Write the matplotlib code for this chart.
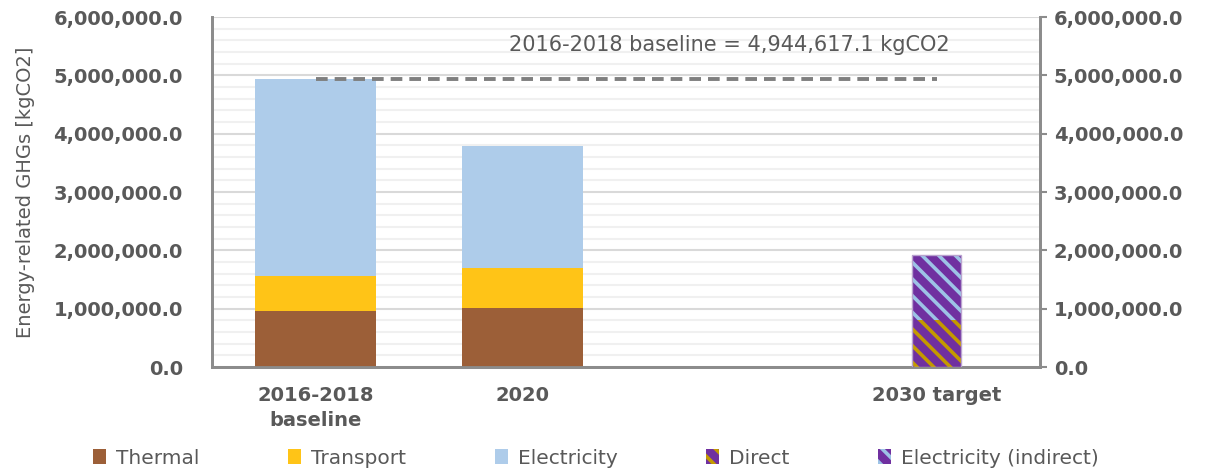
import matplotlib.pyplot as plt
from matplotlib.patches import Patch
from matplotlib.ticker import FuncFormatter, MultipleLocator

# values (kgCO2)
categories = ['2016-2018\nbaseline', '2020', '', '2030 target']
thermal = [960000, 1017000]
transport = [605000, 673000]
electricity = [3379617, 2100000]
direct = [800000]
indirect = [1120000]
baseline = 4944617.1

c_thermal = '#9C5F38'
c_transport = '#FFC417'
c_elec = '#AECCEA'
c_purple = '#7030A0'
c_gold = '#C49A00'
c_blue = '#9DC3E6'
grey_txt = '#595959'

plt.rcParams['font.family'] = ['DejaVu Sans']
plt.rcParams['hatch.linewidth'] = 2.6

fig = plt.figure(figsize=(12.05, 4.73), dpi=100)
ax = fig.add_axes([212/1205, 1 - 367/473, 828/1205, 350/473])
ax2 = ax.twinx()

x_main = [0, 1]
w = 0.585
ax.bar(x_main, thermal, w, color=c_thermal, zorder=3)
ax.bar(x_main, transport, w, bottom=thermal, color=c_transport, zorder=3)
bot2 = [a + b for a, b in zip(thermal, transport)]
ax.bar(x_main, electricity, w, bottom=bot2, color=c_elec, zorder=3)

# 2030 target on secondary axis, narrower and hatched
w2 = 0.232
ax2.bar([3], direct, w2, color=c_purple, edgecolor=c_gold, hatch='\\\\', linewidth=0, zorder=3)
ax2.bar([3], indirect, w2, bottom=direct, color=c_purple, edgecolor=c_blue, hatch='\\\\', linewidth=0, zorder=3)
ax2.bar([3], [direct[0] + indirect[0]], w2, fill=False, edgecolor='#B9A3CF', linewidth=1, zorder=4)

# baseline dashed line + label
ax.plot([0, 3], [baseline, baseline], color='#7F7F7F', lw=2.8, ls=(0, (3, 1.8)), zorder=4)
ax.text(2, 5520000, '2016-2018 baseline = {:,.1f} kgCO2'.format(baseline),
        ha='center', va='center', fontsize=15, color=grey_txt, zorder=5)

for a in (ax, ax2):
    a.set_ylim(0, 6000000)
    a.yaxis.set_major_locator(MultipleLocator(1000000))
    a.yaxis.set_major_formatter(FuncFormatter(lambda v, p: '{:,.1f}'.format(v)))
ax.set_xlim(-0.5, 3.5)
ax.yaxis.set_minor_locator(MultipleLocator(200000))
ax.grid(axis='y', which='major', color='#D9D9D9', lw=1.5, zorder=0)
ax.grid(axis='y', which='minor', color='#F0F0F0', lw=1.5, zorder=0)
ax.set_axisbelow(True)

ax.set_xticks(range(len(categories)))
ax.set_xticklabels(categories, fontsize=14, fontweight='bold', color=grey_txt, linespacing=1.4)
ax.tick_params(axis='x', length=0, pad=14)
ax.tick_params(axis='y', which='both', length=0, pad=21, labelsize=14, labelcolor=grey_txt)
ax2.tick_params(axis='y', length=5, width=1.5, color='#8C8C8C', pad=5, labelsize=14, labelcolor=grey_txt, direction='out')
for lab in ax.get_yticklabels() + ax2.get_yticklabels():
    lab.set_fontweight('bold')

for a in (ax, ax2):
    a.spines['top'].set_visible(False)
    for s in ('left', 'right', 'bottom'):
        a.spines[s].set_color('#8C8C8C')
        a.spines[s].set_linewidth(2)

ax.set_ylabel('Energy-related GHGs [kgCO2]', fontsize=14, color=grey_txt)
ax.yaxis.set_label_coords(-0.214, 0.5)

handles = [
    Patch(facecolor=c_thermal, label='Thermal'),
    Patch(facecolor=c_transport, label='Transport'),
    Patch(facecolor=c_elec, label='Electricity'),
    Patch(facecolor=c_purple, edgecolor=c_gold, hatch='\\\\', lw=0, label='Direct'),
    Patch(facecolor=c_purple, edgecolor=c_blue, hatch='\\\\', lw=0, label='Electricity (indirect)'),
]
fig.legend(handles=handles, loc='center', bbox_to_anchor=(596/1205, 1 - 458/473), ncol=5,
           frameon=False, fontsize=14.5, handlelength=0.65, handleheight=0.75, handletextpad=0.5,
           columnspacing=4.4, labelcolor=grey_txt)

fig.savefig('out.png', dpi=100)
